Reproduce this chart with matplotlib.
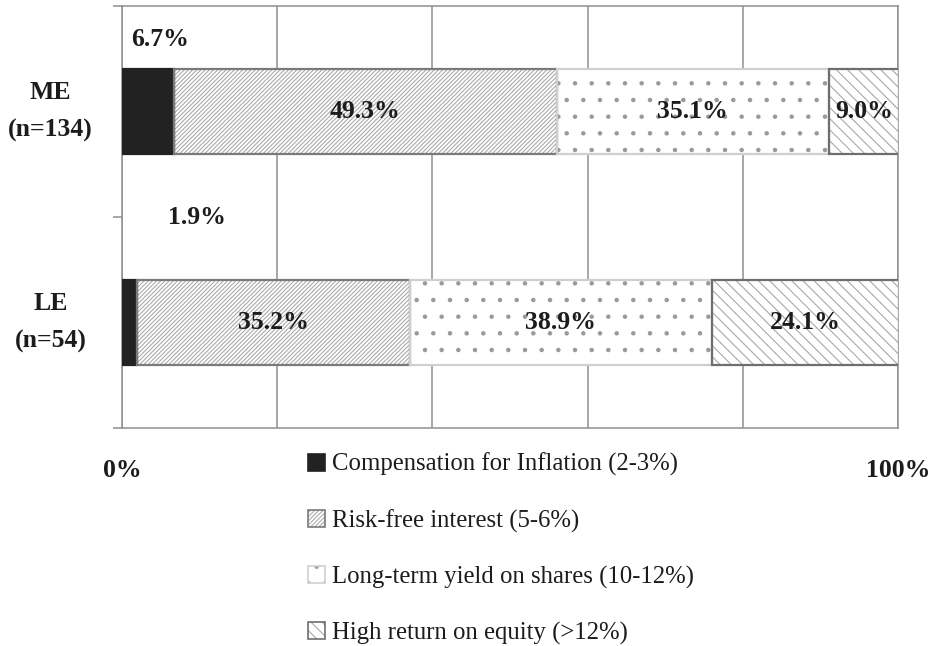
import matplotlib
matplotlib.use("Agg")
import matplotlib.pyplot as plt
from matplotlib.patches import Patch
from matplotlib.transforms import ScaledTranslation

# data
groups = ["LE\n(n=54)", "ME\n(n=134)"]
categories = [
    "Compensation for Inflation (2-3%)",
    "Risk-free interest (5-6%)",
    "Long-term yield on shares (10-12%)",
    "High return on equity (>12%)",
]
values = {
    "LE\n(n=54)": [1.9, 35.2, 38.9, 24.1],
    "ME\n(n=134)": [6.7, 49.3, 35.1, 9.0],
}

# looks of each segment: (face, hatch, hatch colour, border colour)
styles = [
    ("#222222", "", "#222222", "#222222"),
    ("white", "////////", "#ababab", "#7a7a7a"),
    ("white", ".", "#9a9a9a", "#cfcfcf"),
    ("white", "\\\\\\", "#a8a8a8", "#6e6e6e"),
]
# small black segments get their label outside the bar (x in %, y in axis units)
outside_labels = {"ME\n(n=134)": (4.9, 1.34), "LE\n(n=54)": (9.7, 0.5)}

plt.rcParams["font.family"] = ["Liberation Serif", "DejaVu Serif"]
plt.rcParams["hatch.linewidth"] = 0.8
txt = "#1c1c1c"
grey = "#8f8f8f"
bold_fs = 18.5

fig = plt.figure(figsize=(9.33, 6.46), dpi=100)
ax = fig.add_axes([122 / 933, 1 - 428 / 646, 776 / 933, 422 / 646])

ypos = list(range(len(groups)))
bar_h = 0.4
for gi, g in enumerate(groups):
    left = 0
    for ci, v in enumerate(values[g]):
        face, hatch, hcol, bcol = styles[ci]
        ax.barh(gi, v, left=left, height=bar_h, color=face, hatch=hatch,
                edgecolor=hcol, linewidth=0, zorder=3)
        ax.barh(gi, v, left=left, height=bar_h, fill=False,
                edgecolor=bcol, linewidth=1.6, zorder=4)
        lab = f"{v:.1f}%"
        if ci == 0:
            lx, ly = outside_labels[g]
            ax.text(lx, ly, lab, ha="center", va="center", fontsize=bold_fs,
                    fontweight="bold", color=txt, zorder=5)
        else:
            ax.text(left + v / 2, gi, lab, ha="center", va="center",
                    fontsize=bold_fs, fontweight="bold", color=txt, zorder=5)
        left += v

    # group name left of the axis, centred on its bar
    ax.text(-0.092, gi, g, transform=ax.get_yaxis_transform(), ha="center",
            va="center", fontsize=bold_fs, fontweight="bold", color=txt,
            linespacing=1.85)

ax.set_xlim(0, 100)
ax.set_ylim(-0.5, 1.5)
ax.set_xticks([0, 20, 40, 60, 80, 100])
ax.set_xticklabels(["0%", "", "", "", "", "100%"], fontsize=bold_fs,
                   fontweight="bold", color=txt)
ax.tick_params(axis="x", length=0, pad=22)
ax.grid(axis="x", color=grey, linewidth=1.1, zorder=0)
ax.set_axisbelow(True)

ax.set_yticks([-0.5, 0.5, 1.5])
ax.set_yticklabels([])
ax.tick_params(axis="y", which="major", length=6.5, width=1.1, color=grey)

for s in ax.spines.values():
    s.set_color(grey)
    s.set_linewidth(1.1)

# legend handles: hatch patch with its border drawn on top
handles = []
for ci, (face, hatch, hcol, bcol) in enumerate(styles):
    fill_patch = Patch(facecolor=face, hatch=hatch, edgecolor=hcol, linewidth=0)
    edge_patch = Patch(fill=False, edgecolor=bcol, linewidth=1.2)
    handles.append((fill_patch, edge_patch))

fig.legend(handles, categories, loc="upper left",
           bbox_to_anchor=(308 / 933, 1 - 453 / 646),
           frameon=False, fontsize=17.8, labelspacing=1.33, handlelength=0.68,
           handleheight=0.68, handletextpad=0.3, labelcolor=txt,
           borderaxespad=0, borderpad=0)

fig.savefig("out.png", dpi=100)
